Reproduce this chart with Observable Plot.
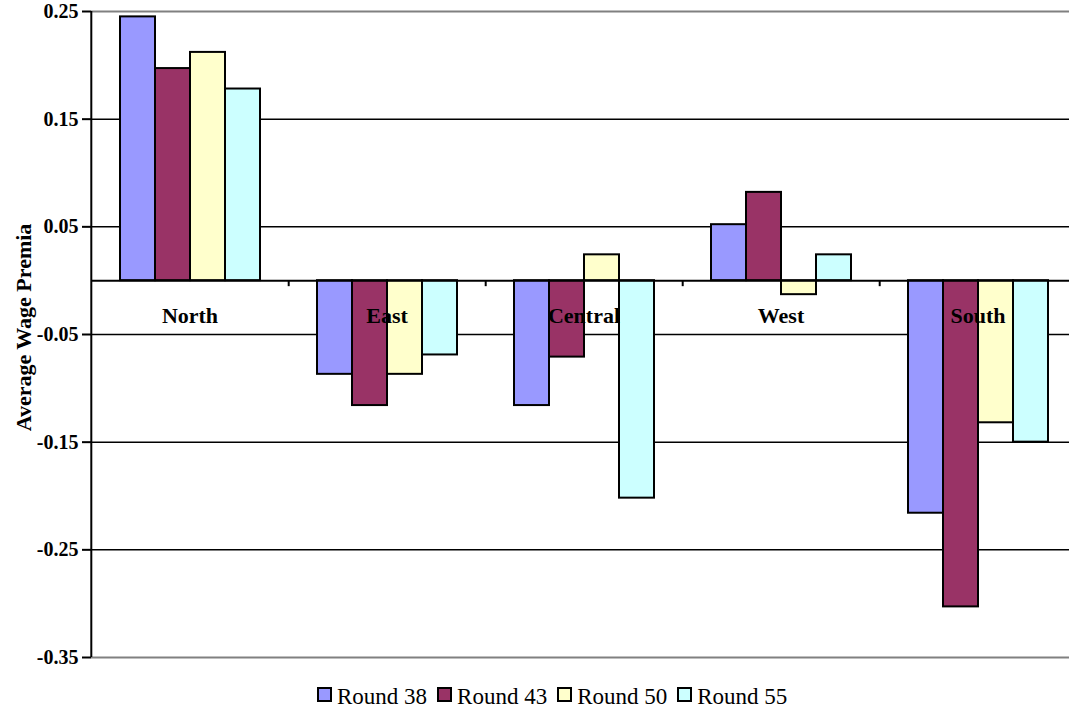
<!DOCTYPE html>
<html>
<head>
<meta charset="utf-8">
<script src="https://cdn.jsdelivr.net/npm/d3@7"></script>
<script src="https://cdn.jsdelivr.net/npm/@observablehq/plot@0.6"></script>
<style>
  body { margin: 0; background: #fff; }
  #chart svg { display: block; }
  #chart svg text { font-family: "Liberation Serif", "Times New Roman", serif; font-weight: bold; }
  #chart svg g[aria-label="y-axis tick label"],
  #chart svg g[aria-label="y-axis tick label"] text { font-size: 20px; }
  .legend { display: flex; align-items: flex-start; padding-left: 317px; margin-top: 14px;
            font-family: "Liberation Serif", "Times New Roman", serif; font-size: 23px; line-height: 1; color: #000; }
  .legend .sw { width: 11px; height: 11px; border: 2px solid #000; margin-top: 2px; margin-right: 5px; }
  .legend .lb { margin-right: 10px; }
</style>
</head>
<body>
<div id="chart"></div>
<script>
// Regions and survey rounds
const regions = ["North", "East", "Central", "West", "South"];
const rounds = ["Round 38", "Round 43", "Round 50", "Round 55"];

// Average wage premia by region, one array per round (same order as regions)
const round38 = [0.245, -0.087, -0.116, 0.052, -0.216];
const round43 = [0.197, -0.116, -0.071, 0.082, -0.303];
const round50 = [0.212, -0.087, 0.024, -0.013, -0.132];
const round55 = [0.178, -0.069, -0.202, 0.024, -0.150];

const yTicks = [0.25, 0.15, 0.05, -0.05, -0.15, -0.25, -0.35];
const colors = ["#9999FF", "#993366", "#FFFFCC", "#CCFFFF"];

const seriesValues = [round38, round43, round50, round55];
const data = rounds.flatMap((round, k) =>
  regions.map((region, i) => ({region, round, value: seriesValues[k][i]}))
);

const serif = "'Liberation Serif', 'Times New Roman', serif";
const width = 1069, height = 671;
const marginLeft = 90, marginRight = -8, marginTop = 11, marginBottom = 14;
const facetWidth = (width - marginLeft - marginRight) / regions.length;
const yMin = d3.min(yTicks), yMax = d3.max(yTicks);

const chart = Plot.plot({
  width, height, marginLeft, marginRight, marginTop, marginBottom,
  style: {fontFamily: serif, fontWeight: "bold", fontSize: "20px", color: "#000", background: "#fff"},
  fx: {domain: regions, padding: 0, axis: null},
  x: {domain: rounds, paddingInner: 0, paddingOuter: 0.78, axis: null},
  y: {domain: [yMin, yMax]},
  color: {domain: rounds, range: colors},
  marks: [
    // interior gridlines
    Plot.ruleY(yTicks.filter(t => t !== yMin && t !== yMax), {stroke: "#000", strokeWidth: 1.5}),
    // plot area top and bottom edges
    Plot.ruleY([yMax, yMin], {stroke: "#808080", strokeWidth: 2}),
    // bars
    Plot.barY(data, {fx: "region", x: "round", y: "value", fill: "round", stroke: "#000", strokeWidth: 2}),
    // zero baseline
    Plot.ruleY([0], {stroke: "#000", strokeWidth: 2}),
    // category boundary ticks on the baseline
    Plot.ruleX(regions, {fx: d => d, x: null, y1: () => 0, y2: () => 0, insetBottom: -6, dx: facetWidth / 2, stroke: "#000", strokeWidth: 2}),
    // vertical value axis line
    Plot.ruleX([regions[0]], {fx: d => d, x: null, dx: -facetWidth / 2, stroke: "#000", strokeWidth: 2}),
    // value axis ticks and labels
    Plot.axisY(yTicks, {
      tickSize: 9, tickPadding: 4, tickFormat: d => d.toFixed(2), strokeWidth: 2, label: null,
      fontSize: 20, fontWeight: "bold", fontFamily: serif, fontVariant: "normal"
    }),
    // axis title
    Plot.text(["Average Wage Premia"], {
      fx: () => regions[0], frameAnchor: "left", textAnchor: "middle", dx: -68, dy: -7, rotate: -90,
      fontSize: 22, fontWeight: "bold", fontFamily: serif
    }),
    // region labels just below the baseline
    Plot.text(regions, {fx: d => d, y: () => 0, dy: 35.5, text: d => d, fontSize: 22, fontWeight: "bold", fontFamily: serif})
  ]
});

document.getElementById("chart").append(chart);

// legend below the chart
const legend = d3.select("body").append("div").attr("class", "legend");
rounds.forEach((r, k) => {
  legend.append("div").attr("class", "sw").style("background", colors[k]);
  legend.append("div").attr("class", "lb").text(r);
});
</script>
</body>
</html>
